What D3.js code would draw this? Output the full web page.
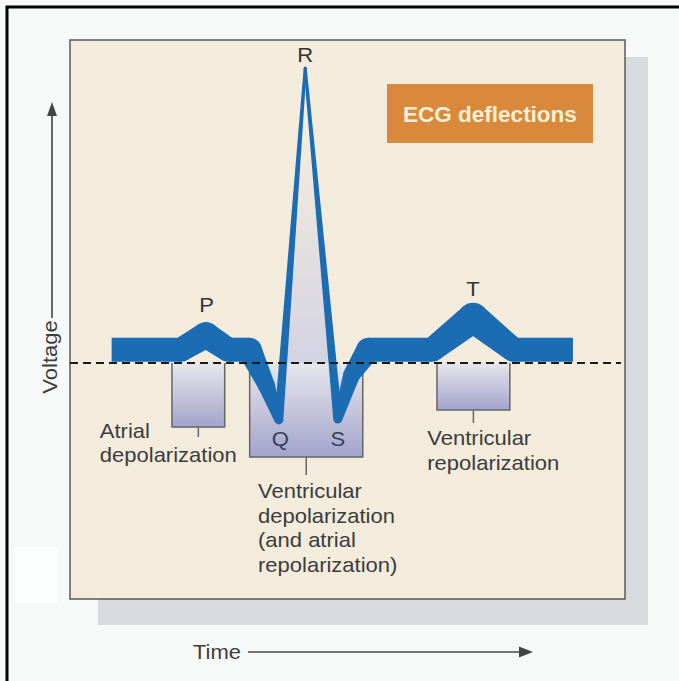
<!DOCTYPE html>
<html>
<head>
<meta charset="utf-8">
<script src="https://cdn.jsdelivr.net/npm/d3@7"></script>
<style>
  body { margin: 0; background: #f7f9f8; }
  svg { display: block; font-family: "Liberation Sans", Arial, sans-serif; }
</style>
</head>
<body>
<script>
// ECG trace, time in ms and voltage in mV
const traceTime = [60, 160, 196, 228, 259, 283, 301, 339, 386, 406, 430, 522, 581, 639, 725];
const traceVolt = [0.045, 0.045, 0.095, 0.045, 0.045, -0.075, -0.193, 1.0, -0.19, -0.04, 0.045, 0.045, 0.153, 0.045, 0.045];
// line thickness along the trace (px)
const traceWidth = [24, 24, 26, 24, 24, 17, 9, 3, 9, 17, 24, 24, 30, 24, 24];

// wave letters
const waveNames = ['P', 'Q', 'R', 'S', 'T'];
const waveTime = [197, 303, 339, 386, 581];
const waveVolt = [0.173, -0.281, 1.02, -0.281, 0.227];

// intervals marked under the baseline
const intervalStart = [147, 259, 529];
const intervalEnd = [223, 422, 634];
const intervalDepth = [-0.217, -0.319, -0.159];
const intervalLines = [
  ['Atrial', 'depolarization'],
  ['Ventricular', 'depolarization', '(and atrial', 'repolarization)'],
  ['Ventricular', 'repolarization']
];
const labelTime = [43, 271, 515];
const labelVolt = [-0.254, -0.458, -0.278];

const width = 679, height = 681;
const panel = {x: 70, y: 40, w: 555, h: 559};

const x = d3.scaleLinear().domain([0, 800]).range([panel.x, panel.x + panel.w]);
const y = d3.scaleLinear().domain([0, 1]).range([363, 68]);

const svg = d3.select('body').append('svg')
  .attr('width', width)
  .attr('height', height);

const defs = svg.append('defs');
const boxGrad = defs.append('linearGradient')
  .attr('id', 'boxGrad').attr('x1', 0).attr('y1', 0).attr('x2', 0).attr('y2', 1);
boxGrad.append('stop').attr('offset', 0).attr('stop-color', '#e7e7ec');
boxGrad.append('stop').attr('offset', 1).attr('stop-color', '#a3a3cc');

const spikeGrad = defs.append('linearGradient')
  .attr('id', 'spikeGrad').attr('gradientUnits', 'userSpaceOnUse')
  .attr('x1', 0).attr('x2', 0).attr('y1', y(0.75)).attr('y2', y(0));
spikeGrad.append('stop').attr('offset', 0).attr('stop-color', '#f3ebdc');
spikeGrad.append('stop').attr('offset', 1).attr('stop-color', '#d3d3e3');

// outer frame
svg.append('rect')
  .attr('x', 7).attr('y', 7).attr('width', width).attr('height', height)
  .attr('fill', '#f7f9f8').attr('stroke', '#000').attr('stroke-width', 3);
svg.append('rect')
  .attr('x', 15).attr('y', 547).attr('width', 42).attr('height', 56)
  .attr('fill', '#fdfefe');

// panel and its shadow
svg.append('rect')
  .attr('x', 98).attr('y', 57).attr('width', 550).attr('height', 568)
  .attr('fill', '#d8dbde');
svg.append('rect')
  .attr('x', panel.x).attr('y', panel.y).attr('width', panel.w).attr('height', panel.h)
  .attr('fill', '#f3ebdc').attr('stroke', '#5a5a5a').attr('stroke-width', 1.5);

// title box
svg.append('rect')
  .attr('x', 387).attr('y', 84).attr('width', 206).attr('height', 59)
  .attr('fill', '#d9893b');
svg.append('text')
  .attr('x', 490).attr('y', 122)
  .attr('text-anchor', 'middle')
  .attr('font-weight', 'bold')
  .attr('font-size', 22.5)
  .attr('fill', '#fbf0d6')
  .text('ECG deflections');

const pts = traceTime.map((t, i) => [x(t), y(traceVolt[i]), traceWidth[i]]);

// fill inside the R spike
const iQ = 6, iR = 7, iS = 8;
svg.append('path')
  .attr('d', 'M' + [pts[iQ], pts[iR], pts[iS]].map(p => p[0] + ',' + p[1]).join('L') + 'Z')
  .attr('fill', 'url(#spikeGrad)');

// interval boxes
const boxes = svg.append('g').selectAll('g')
  .data(intervalStart.map((s, i) => ({s: s, e: intervalEnd[i], d: intervalDepth[i], i: i})))
  .join('g');
boxes.append('rect')
  .attr('x', d => x(d.s)).attr('y', y(0))
  .attr('width', d => x(d.e) - x(d.s)).attr('height', d => y(d.d) - y(0))
  .attr('fill', 'url(#boxGrad)');
boxes.append('path')
  .attr('d', d => `M${x(d.s)},${y(0)}V${y(d.d)}H${x(d.e)}V${y(0)}`)
  .attr('fill', 'none').attr('stroke', '#666').attr('stroke-width', 1.5);
const tickLen = [10, 18, 13];
boxes.append('line')
  .attr('x1', d => (x(d.s) + x(d.e)) / 2).attr('x2', d => (x(d.s) + x(d.e)) / 2)
  .attr('y1', d => y(d.d)).attr('y2', d => y(d.d) + tickLen[d.i])
  .attr('stroke', '#666').attr('stroke-width', 1.5);

// the trace: one trapezoid per segment, round joints
const trace = svg.append('g').attr('fill', '#1b6cb3');
const segs = d3.pairs(pts).map(([a, b]) => {
  const dx = b[0] - a[0], dy = b[1] - a[1], len = Math.hypot(dx, dy);
  const nx = -dy / len, ny = dx / len;
  return [
    [a[0] + nx * a[2] / 2, a[1] + ny * a[2] / 2],
    [b[0] + nx * b[2] / 2, b[1] + ny * b[2] / 2],
    [b[0] - nx * b[2] / 2, b[1] - ny * b[2] / 2],
    [a[0] - nx * a[2] / 2, a[1] - ny * a[2] / 2]
  ];
});
trace.selectAll('path')
  .data(segs)
  .join('path')
  .attr('d', d => 'M' + d.map(p => p.join(',')).join('L') + 'Z');
trace.selectAll('circle')
  .data(pts.slice(1, -1))
  .join('circle')
  .attr('cx', d => d[0]).attr('cy', d => d[1]).attr('r', d => d[2] / 2);

// baseline
svg.append('line')
  .attr('x1', panel.x).attr('x2', panel.x + panel.w - 4)
  .attr('y1', y(0)).attr('y2', y(0))
  .attr('stroke', '#1a1a1a').attr('stroke-width', 2)
  .attr('stroke-dasharray', '8,5');

// wave letters
svg.append('g').selectAll('text')
  .data(waveNames)
  .join('text')
  .attr('transform', (d, i) => `translate(${x(waveTime[i])},${y(waveVolt[i])}) scale(1.1,1)`)
  .attr('text-anchor', 'middle')
  .attr('font-size', 20)
  .attr('fill', d => (d === 'Q' || d === 'S') ? '#34405c' : '#333')
  .text(d => d);

// interval labels
const lineH = 24.5;
intervalLines.forEach((lines, i) => {
  svg.append('text')
    .attr('transform', `translate(${x(labelTime[i])},${y(labelVolt[i])}) scale(1.1,1)`)
    .attr('font-size', 20)
    .attr('fill', '#3c3c3c')
    .selectAll('tspan')
    .data(lines)
    .join('tspan')
    .attr('x', 0)
    .attr('dy', (d, j) => j === 0 ? 0 : lineH)
    .text(d => d);
});

// axis arrows
const axisColor = '#444';
svg.append('line')
  .attr('x1', 52).attr('x2', 52).attr('y1', 318).attr('y2', 114)
  .attr('stroke', axisColor).attr('stroke-width', 1.6);
svg.append('path')
  .attr('d', 'M52,102L47,116L57,116Z')
  .attr('fill', axisColor);
svg.append('text')
  .attr('transform', 'translate(57,357) rotate(-90) scale(1.1,1)')
  .attr('text-anchor', 'middle')
  .attr('font-size', 20)
  .attr('fill', '#3c3c3c')
  .text('Voltage');

svg.append('text')
  .attr('transform', 'translate(193,659) scale(1.1,1)')
  .attr('font-size', 20)
  .attr('fill', '#3c3c3c')
  .text('Time');
svg.append('line')
  .attr('x1', 248).attr('x2', 522).attr('y1', 652).attr('y2', 652)
  .attr('stroke', axisColor).attr('stroke-width', 1.6);
svg.append('path')
  .attr('d', 'M533,652L519,646.5L519,657.5Z')
  .attr('fill', axisColor);
</script>
</body>
</html>
